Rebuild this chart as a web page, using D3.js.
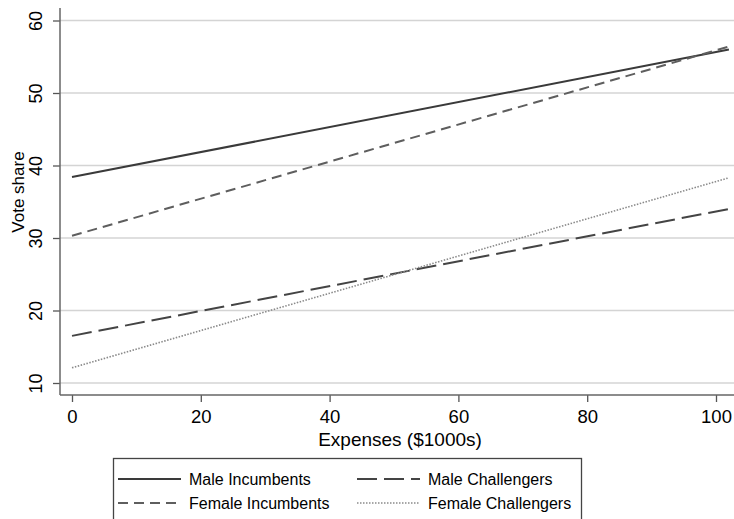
<!DOCTYPE html>
<html>
<head>
<meta charset="utf-8">
<script src="https://cdn.jsdelivr.net/npm/d3@7"></script>
<style>
  body { margin: 0; background: #fff; }
  svg { display: block; font-family: "Liberation Sans", Arial, Helvetica, sans-serif; }
</style>
</head>
<body>
<div id="chart"></div>
<script>
// data (fitted lines, two end points each)
const expenses = [0, 102];
const maleIncumbents = [38.4, 56.0];
const femaleIncumbents = [30.3, 56.4];
const maleChallengers = [16.5, 34.0];
const femaleChallengers = [12.1, 38.3];
const xTicks = [0, 20, 40, 60, 80, 100];
const yTicks = [10, 20, 30, 40, 50, 60];
const seriesNames = ["Male Incumbents", "Male Challengers", "Female Incumbents", "Female Challengers"];

const width = 734,
    height = 519;

const svg = d3.select("#chart")
    .append("svg")
    .attr("width", width)
    .attr("height", height);

// scales
const xScale = d3.scaleLinear()
    .domain([0, 100])
    .range([72, 716]);
const yScale = d3.scaleLinear()
    .domain([10, 60])
    .range([383, 20.5]);

const plot = { left: 60, right: 734, top: 8, bottom: 395 };

// gridlines
svg.append("g")
    .selectAll("line")
    .data(yTicks)
    .enter()
    .append("line")
    .attr("x1", plot.left)
    .attr("x2", plot.right)
    .attr("y1", d => yScale(d))
    .attr("y2", d => yScale(d))
    .attr("stroke", "#d4d4d4")
    .attr("stroke-width", 1.5);

// axes
const yAxis = d3.axisLeft(yScale).tickValues(yTicks).tickSize(7).tickSizeOuter(0);
const xAxis = d3.axisBottom(xScale).tickValues(xTicks).tickSize(7).tickSizeOuter(0);

const gy = svg.append("g")
    .attr("transform", `translate(${plot.left},0)`)
    .call(yAxis);
gy.select(".domain").remove();
gy.selectAll(".tick line").attr("stroke", "#555").attr("stroke-width", 1.3);
gy.selectAll(".tick text")
    .attr("transform", "rotate(-90)")
    .attr("x", 0)
    .attr("y", -18)
    .attr("dy", 0)
    .attr("text-anchor", "middle")
    .attr("fill", "#000")
    .style("font-size", "18px");

const gx = svg.append("g")
    .attr("transform", `translate(0,${plot.bottom})`)
    .call(xAxis);
gx.select(".domain").remove();
gx.selectAll(".tick line").attr("stroke", "#555").attr("stroke-width", 1.3);
gx.selectAll(".tick text")
    .attr("y", 28)
    .attr("dy", 0)
    .attr("fill", "#000")
    .style("font-size", "18.5px");

// axis lines
svg.append("line")
    .attr("x1", plot.left).attr("x2", plot.left)
    .attr("y1", plot.top).attr("y2", plot.bottom)
    .attr("stroke", "#666").attr("stroke-width", 1.5);
svg.append("line")
    .attr("x1", plot.left).attr("x2", plot.right)
    .attr("y1", plot.bottom).attr("y2", plot.bottom)
    .attr("stroke", "#666").attr("stroke-width", 1.5);

// axis titles
svg.append("text")
    .attr("x", 400)
    .attr("y", 446)
    .attr("text-anchor", "middle")
    .style("font-size", "19px")
    .text("Expenses ($1000s)");
svg.append("text")
    .attr("transform", "translate(24,192) rotate(-90)")
    .attr("text-anchor", "middle")
    .style("font-size", "17px")
    .text("Vote share");

// line styles
const styles = {
    "Male Incumbents": { values: maleIncumbents, color: "#3a3a3a", dash: null, w: 2 },
    "Male Challengers": { values: maleChallengers, color: "#444", dash: "20,7", w: 2 },
    "Female Incumbents": { values: femaleIncumbents, color: "#5e5e5e", dash: "10,6", w: 2 },
    "Female Challengers": { values: femaleChallengers, color: "#8a8a8a", dash: "1.5,1.5", w: 1.6 }
};

const line = d3.line()
    .x(d => xScale(d[0]))
    .y(d => yScale(d[1]));

seriesNames.forEach(name => {
    const s = styles[name];
    svg.append("path")
        .datum(expenses.map((e, i) => [e, s.values[i]]))
        .attr("d", line)
        .attr("fill", "none")
        .attr("stroke", s.color)
        .attr("stroke-width", s.w)
        .attr("stroke-dasharray", s.dash);
});

// legend
const legend = svg.append("g").attr("id", "legend");
legend.append("rect")
    .attr("x", 113.5)
    .attr("y", 458.5)
    .attr("width", 468)
    .attr("height", 80)
    .attr("fill", "#fff")
    .attr("stroke", "#444")
    .attr("stroke-width", 1.3);

const cols = [118, 357];
const rows = [479, 503];
seriesNames.forEach((name, i) => {
    const s = styles[name];
    const x0 = cols[i % 2], y0 = rows[Math.floor(i / 2)];
    legend.append("line")
        .attr("x1", x0).attr("x2", x0 + 63)
        .attr("y1", y0).attr("y2", y0)
        .attr("stroke", s.color)
        .attr("stroke-width", s.w)
        .attr("stroke-dasharray", s.dash);
    legend.append("text")
        .attr("x", x0 + 71)
        .attr("y", y0 + 6)
        .style("font-size", "16px")
        .text(name);
});
</script>
</body>
</html>
